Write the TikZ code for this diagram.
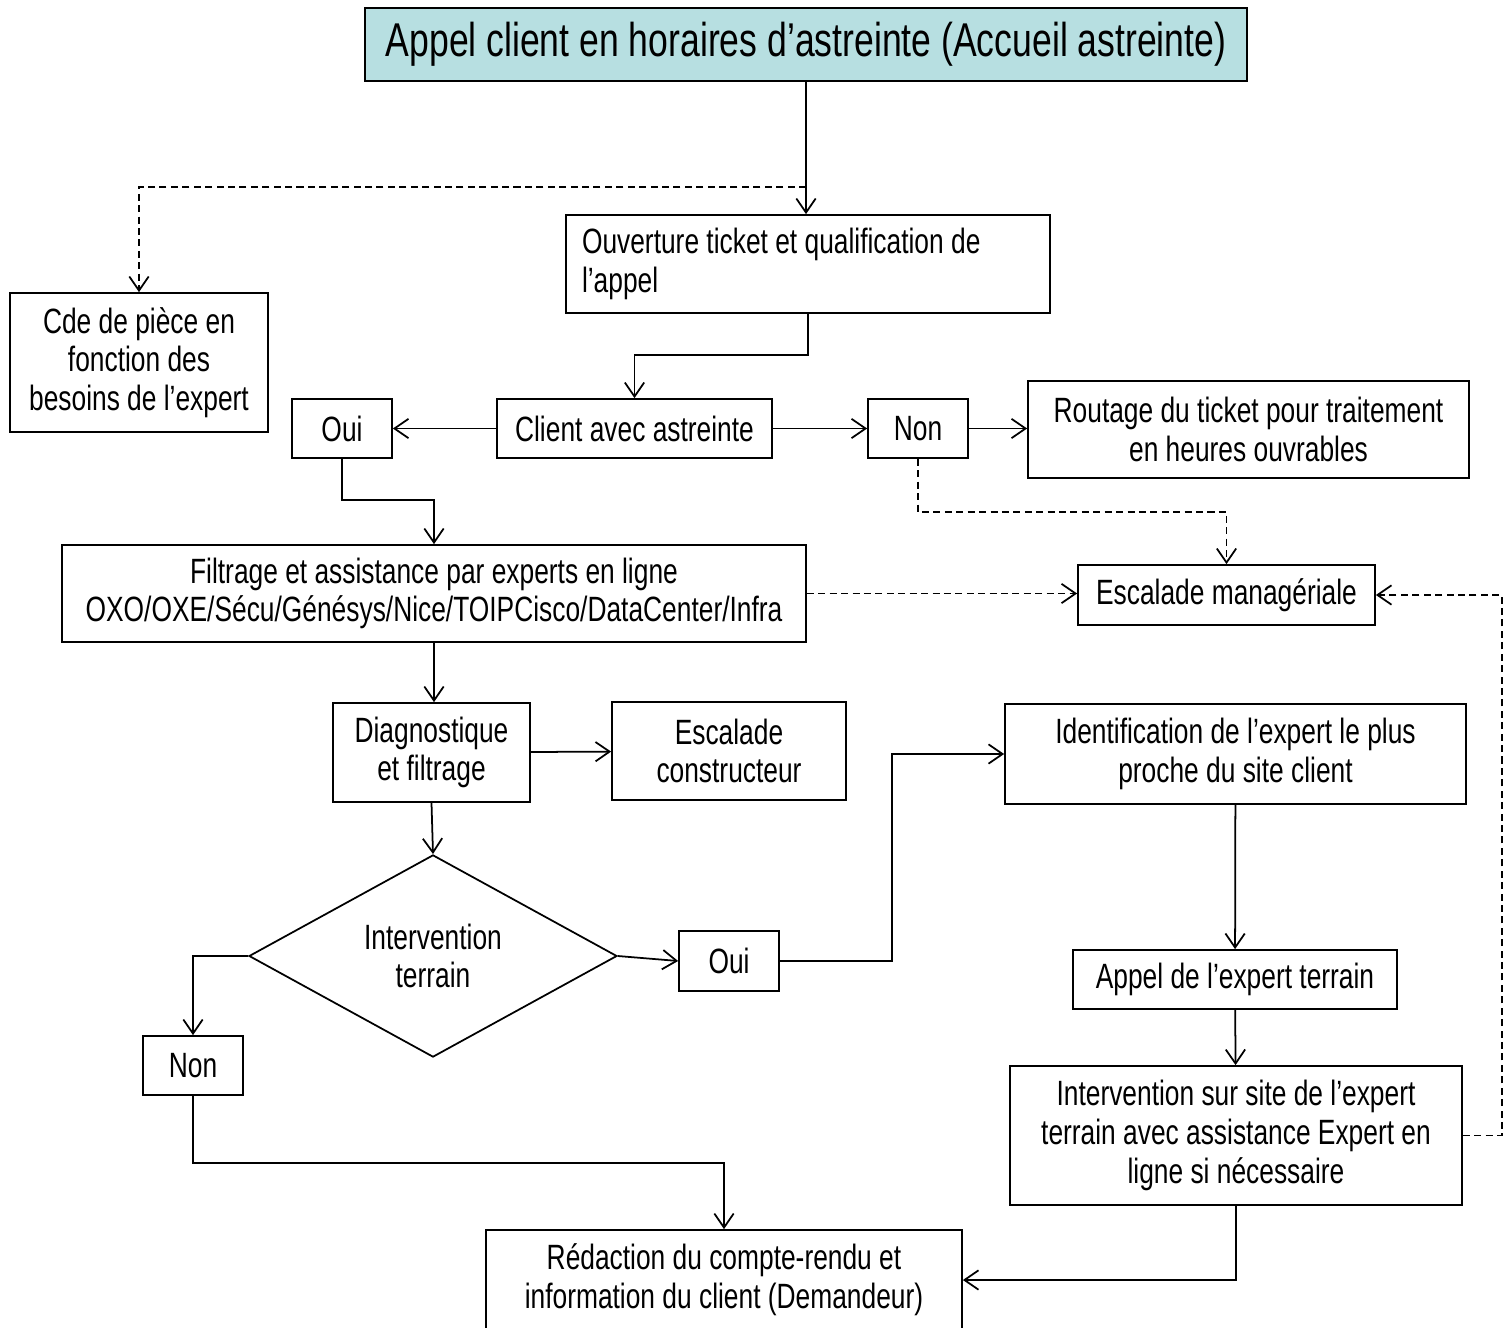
\documentclass[tikz,border=0pt]{standalone}
\usepackage{fontspec}
\setmainfont{Liberation Sans}[FakeStretch=0.75]
\usepackage{tikz}
\usetikzlibrary{arrows.meta}
\usetikzlibrary{shapes.geometric}
\definecolor{TitleCyan}{HTML}{B7DFE1}

\begin{document}
\begin{tikzpicture}[x=0.02cm,y=-0.02cm,>={Straight Barb[length=8pt,width=11pt]},
		box/.style={draw,line width=1pt,align=center,inner sep=2pt,font=\fontsize{20}{22}\selectfont},
		sz/.style 2 args={minimum width=#1*0.02cm,minimum height=#2*0.02cm},
		flow/.style={line width=1pt,->},
		dotflow/.style={line width=1pt,->,dash pattern=on 4pt off 2.5pt}]
		\useasboundingbox (0,0) rectangle (1511,1328);
		\node[box,sz={882}{73},fill=TitleCyan,font=\fontsize{27}{30}\selectfont] (title) at (806,44.5) {Appel client en horaires d’astreinte (Accueil astreinte)};
		\node[box,sz={484}{98},align=flush left,text width=452*0.02cm] (ouvert) at (808,264) {Ouverture ticket et qualification de\\l’appel};
		\node[box,sz={258}{139}] (cde) at (139,362.5) {Cde de pièce en\\fonction des\\besoins de l’expert};
		\node[box,sz={275}{59}] (client) at (634.5,428.5) {Client avec astreinte};
		\node[box,sz={100}{59}] (oui) at (342,428.5) {Oui};
		\node[box,sz={100}{59}] (non) at (918,428.5) {Non};
		\node[box,sz={441}{97}] (routage) at (1248.5,429.5) {Routage du ticket pour traitement\\en heures ouvrables};
		\node[box,sz={297}{60}] (escmgr) at (1226.5,595) {Escalade managériale};
		\node[box,sz={744}{97}] (filtrage) at (434,593.5) {Filtrage et assistance par experts en ligne\\OXO/OXE/Sécu/Génésys/Nice/TOIPCisco/DataCenter/Infra};
		\node[box,sz={197}{99}] (diag) at (431.5,752.5) {Diagnostique\\et filtrage};
		\node[box,sz={234}{98}] (escconst) at (729,751) {Escalade\\constructeur};
		\node[box,diamond,sz={368}{196},inner sep=0pt] (terrain) at (433,956) {Intervention\\terrain};
		\node[box,sz={100}{60}] (oui2) at (729,961) {Oui};
		\node[box,sz={461}{100}] (ident) at (1235.5,754) {Identification de l’expert le plus\\proche du site client};
		\node[box,sz={324}{59}] (appel) at (1235,979.5) {Appel de l’expert terrain};
		\node[box,sz={452}{139}] (interv) at (1236,1135.5) {Intervention sur site de l’expert\\terrain avec assistance Expert en\\ligne si nécessaire};
		\node[box,sz={100}{59}] (non2) at (193,1065.5) {Non};
		\node[box,sz={476}{100}] (redac) at (724,1280) {Rédaction du compte-rendu et\\information du client (Demandeur)};
		\coordinate (c1) at (806,187);
		\coordinate (c2) at (808,355);
		\coordinate (c3) at (918,512);
		\coordinate (c4) at (342,500);
		\coordinate (c5) at (892,961);
		\coordinate (c6) at (1502,1135.5);
		\coordinate (c7) at (193,1163);
		\draw[flow] (title.south) -- (title.south |- ouvert.north);
		\draw[dotflow] (c1) -| (cde.north);
		\draw[flow] (ouvert.south) -- (c2) -| (client.north);
		\draw[flow] (client) -- (oui);
		\draw[flow] (client) -- (non);
		\draw[flow] (non.east) -- (non.east -| routage.west);
		\draw[dotflow] (non.south) -- (c3) -| (escmgr.north);
		\draw[flow] (oui.south) -- (c4) -| (filtrage.north);
		\draw[dotflow] (filtrage.east) -- (filtrage.east -| escmgr.west);
		\draw[flow] (filtrage.south) -- (filtrage.south |- diag.north);
		\draw[flow] (diag) -- (escconst);
		\draw[flow] (diag.south) -- (terrain.north);
		\draw[flow] (terrain.east) -- (oui2.west);
		\draw[flow] (oui2.east) -- (c5) |- (ident.west);
		\draw[flow] (ident) -- (appel);
		\draw[flow] (appel) -- (interv);
		\draw[dotflow] (interv.east) -- (c6) |- (escmgr.east);
		\draw[flow] (interv.south) |- (redac.east);
		\draw[flow] (terrain.west) -| (non2.north);
		\draw[flow] (non2.south) -- (c7) -| (redac.north);
	\end{tikzpicture}
\end{document}
